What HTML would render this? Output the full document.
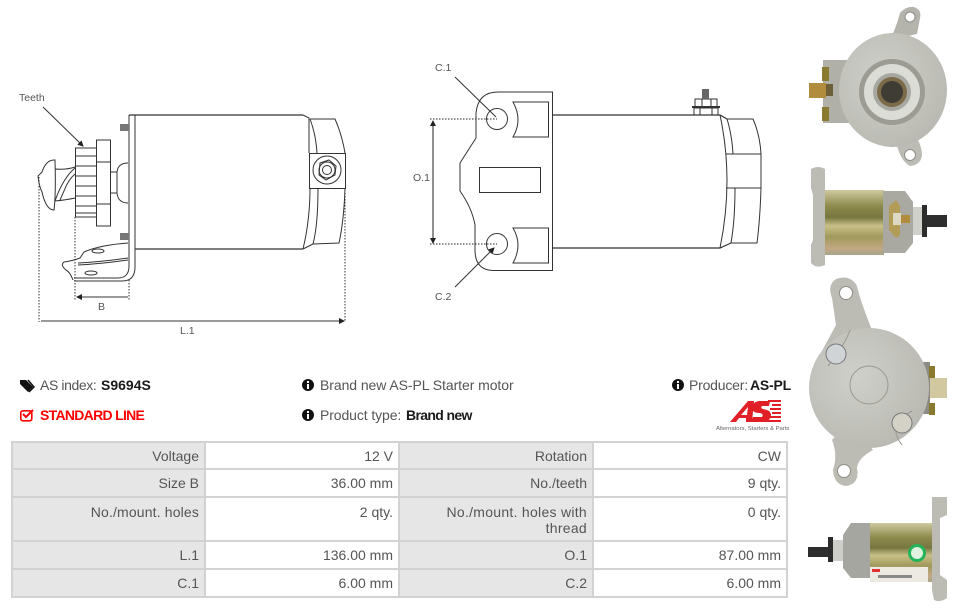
<!DOCTYPE html>
<html><head><meta charset="utf-8"><style>
html,body{margin:0;padding:0;background:#fff}
body{width:956px;height:608px;overflow:hidden;position:relative;font-family:"Liberation Sans",sans-serif}
svg{position:absolute;left:0;top:0}
.t{position:absolute;font-size:14px;color:#555;white-space:nowrap;line-height:18px}
.b{color:#1a1a1a;font-weight:bold}
.c{position:absolute;font-size:14px;color:#555;text-align:right;line-height:17px;box-sizing:border-box;padding-right:5px;white-space:nowrap}
.g{background:#e6e6e6}
.w{background:#fff}
</style></head><body>
<svg width="956" height="608" viewBox="0 0 956 608">
<defs>
<marker id="a" markerWidth="6" markerHeight="6" refX="5" refY="3" orient="auto-start-reverse"><path d="M0 0L6 3L0 6z" fill="#222"/></marker>
<linearGradient id="gold" x1="0" y1="0" x2="0" y2="1"><stop offset="0" stop-color="#cfc9a0"/><stop offset=".25" stop-color="#8d8a4c"/><stop offset=".42" stop-color="#77763f"/><stop offset=".55" stop-color="#c8c088"/><stop offset=".72" stop-color="#a29a5c"/><stop offset=".9" stop-color="#c2a884"/><stop offset="1" stop-color="#a8a58a"/></linearGradient>
<radialGradient id="face" cx=".4" cy=".4" r=".8"><stop offset="0" stop-color="#d0d0ca"/><stop offset="1" stop-color="#b4b4ad"/></radialGradient>
</defs>

<!-- Left drawing -->
<g fill="none" stroke="#333" stroke-width="1">
<path d="M129 115H303M135 249H303" stroke-width="1.200"/>
<path d="M135 115V267Q135 281 122 281H74"/>
<path d="M129 115V266Q129 278 118 278H74"/>
<path d="M303 115L309 118Q309 135 309 153M303 249L313 244Q318 225 318 188M303 249Q310 220 310 188M310 119Q316 135 317 153"/>
<path d="M310 119H335Q342 135 345 153M313 244L339 243Q344 220 345 188"/>
<rect x="309.500" y="153.500" width="36" height="35"/>
<circle cx="327" cy="170" r="14"/>
<path d="M320 163L329 160L336 166L335 175L326 180L319 175Z"/>
<circle cx="327" cy="170" r="8"/><circle cx="327" cy="170" r="4.500"/>
<rect x="96.500" y="140" width="14" height="86"/>
<path d="M96.500 162H110.500M96.500 204H110.500"/>
<rect x="75.500" y="148" width="21" height="69"/>
<path d="M76 156H96M76 166H96M76 176H96M76 186H96M76 196H96M76 206H96M76 213H96"/>
<path d="M111 172H117Q118 163 128 163M111 193H117Q118 203 128 203M117 172V193"/>
<path d="M75 168Q63 178 55 201M75 174Q68 180 64 191L60 200M55 169Q66 170 75 167M55 201Q66 200 75 198"/>
<path d="M54 160Q46 160 42 172L38 176Q39 186 42 192Q46 210 54 210Q56 195 55 160Z"/>
<path d="M73 280Q70 272 66 270Q60 265 64 262Q72 261 80 258L84 252Q100 245 128 243M78 263Q100 262 128 258M78 265Q100 264 128 260"/>
<ellipse cx="98" cy="251" rx="6" ry="2"/><ellipse cx="91" cy="273" rx="6" ry="2"/>
</g>
<g fill="#777"><rect x="120" y="124" width="9" height="7"/><rect x="120" y="233" width="9" height="7"/></g>
<path d="M75 217V300M129 280V300M39 177V322M345 193V322" stroke="#333" fill="none" stroke-dasharray="1.500 1.500"/>
<path d="M43 107L83 146" stroke="#333" fill="none" marker-end="url(#a)"/>
<path d="M77 297H128M41 321H344" stroke="#333" fill="none" marker-start="url(#a)" marker-end="url(#a)"/>

<!-- Middle drawing -->
<g fill="none" stroke="#333" stroke-width="1">
<path d="M552 115H720L727 119M552 248H720L731 243" stroke-width="1.200"/>
<rect x="479.500" y="167.500" width="61" height="25"/>
<path d="M552.500 92V270.500H493Q475 270 475 250V225Q472 208 460 191V163L476 138V113Q478 92 498 92Z"/>
<path d="M513 102H548.500V137H513Q523 120 513 102Z"/>
<path d="M513 228H548.500V263H513Q523 245 513 228Z"/>
<circle cx="497" cy="119" r="10.500"/><circle cx="497" cy="244" r="10.500"/>
<path d="M720 115Q734 180 720 248M727 119Q732 135 733 154M735 188Q735 220 731 243"/>
<path d="M727 119H753Q760 135 761 154V188Q760 220 757 243H731M726 154H761M726 188H761"/>
<path d="M694 115V108H718V115M700 108V115M712 108V115M695 106V99H717V106M702 99V106M711 99V106"/>
</g>
<rect x="692" y="106" width="28" height="2" fill="#333"/>
<rect x="702" y="89" width="7" height="10" fill="#666"/>
<path d="M430 119H497M430 244H497" stroke="#222" stroke-dasharray="1.500 1.500" fill="none"/>
<path d="M433 121V243" stroke="#222" fill="none" marker-start="url(#a)" marker-end="url(#a)"/>
<path d="M455 77L496 117M455 287L494 248" stroke="#333" fill="none" marker-end="url(#a)"/>

<!-- Photo 1 -->
<path d="M890 40Q896 28 900 13Q906 6 914 7Q922 10 920 18L917 34Z" fill="#b4b4ac"/>
<circle cx="910" cy="17" r="5" fill="#fff" stroke="#8e8e86"/>
<path d="M896 140Q899 160 910 166Q921 165 922 155Q922 148 918 140Z" fill="#bcbcb4"/>
<circle cx="910" cy="155" r="5.500" fill="#fff" stroke="#8e8e86"/>
<rect x="823" y="60" width="26" height="63" fill="#b0b0a8"/>
<ellipse cx="893" cy="90" rx="54" ry="57" fill="url(#face)"/>
<circle cx="892" cy="92" r="33" fill="#9c9c95"/><circle cx="892" cy="92" r="28" fill="#dcdcd6"/>
<circle cx="892" cy="92" r="19" fill="#a8a8a2"/><circle cx="892" cy="92" r="15" fill="#7c6a48"/><circle cx="892" cy="92" r="11" fill="#3f3c36"/>
<rect x="809" y="83" width="17" height="15" fill="#b08c3c"/><rect x="822" y="67" width="7" height="14" fill="#8a7a30"/><rect x="822" y="107" width="7" height="14" fill="#8a7a30"/>
<rect x="826" y="84" width="7" height="12" fill="#6d6038"/>

<!-- Photo 2 -->
<path d="M811 169Q818 165 825 169V265Q816 269 811 263V245L813 240V195L811 188Z" fill="#bcbcb4"/>
<rect x="825" y="190" width="59" height="65" fill="url(#gold)"/>
<path d="M883 191H905L913 202V243L905 253H883Z" fill="#a9a9a2"/>
<rect x="913" y="207" width="9" height="28" fill="#d0d0ca"/><rect x="922" y="205" width="5" height="32" fill="#2c2c2c"/>
<rect x="927" y="215" width="20" height="12" fill="#2e2e2e"/>
<path d="M889 206L896 200L900 206V235L896 238L889 230Z" fill="#b39c58"/><rect x="893" y="213" width="8" height="12" fill="#dcd8c4"/><rect x="901" y="215" width="9" height="8" fill="#b08c3c"/>

<!-- Photo 3 -->
<path d="M832 298Q827 285 836 279Q850 274 857 286Q860 300 872 330L860 370L817 360L836 325Z" fill="#bcbcb5"/>
<circle cx="846" cy="293" r="6.500" fill="#fff" stroke="#8e8e86"/>
<path d="M832 440Q838 455 833 470Q834 485 846 486Q860 484 857 468Q858 458 873 450L850 420Z" fill="#bcbcb5"/>
<circle cx="844" cy="471" r="6.500" fill="#fff" stroke="#8e8e86"/>
<rect x="920" y="362" width="10" height="52" fill="#8c8c84"/>
<rect x="930" y="378" width="17" height="20" fill="#d2c8a0"/><rect x="929" y="366" width="6" height="12" fill="#8a7a30"/><rect x="929" y="403" width="6" height="12" fill="#8a7a30"/>
<circle cx="869" cy="388" r="60" fill="url(#face)"/>
<circle cx="869" cy="385" r="19" fill="none" stroke="#9a9a92"/>
<path d="M850 330Q845 345 828 366M902 445Q886 425 912 411" fill="none" stroke="#9a9a92"/>
<circle cx="836" cy="354" r="10" fill="#d0d4d6" stroke="#77777a"/>
<circle cx="902" cy="423" r="10" fill="#d4d2c6" stroke="#77777a"/>

<!-- Photo 4 -->
<path d="M932 497H947V515L940 518V575L947 580V598Q940 603 934 600L932 590Z" fill="#bcbcb4"/>
<rect x="870" y="523" width="62" height="59" fill="url(#gold)"/>
<path d="M870 523H851L843 535V568L851 578H870Z" fill="#a6a6a0"/>
<rect x="833" y="540" width="10" height="21" fill="#cfcfca"/><rect x="828" y="537" width="5" height="25" fill="#2c2c2c"/>
<rect x="808" y="547" width="21" height="10" fill="#2e2e2e"/>
<rect x="870" y="567" width="58" height="15" fill="#eceae2"/><rect x="872" y="569" width="8" height="3" fill="#d33"/><rect x="878" y="575" width="34" height="3" fill="#888"/>
<circle cx="917" cy="553" r="9" fill="#25b35a"/><circle cx="917" cy="553" r="6" fill="#dff2e0"/>

<!-- AS logo -->
<path d="M730 422L748 401H754L752 422H746L746 418H739L736 422ZM741 415H747L748 407Z" fill="#e01f26"/>
<path d="M770 401H759Q752 402 752 409Q753 413 760 413Q764 414 762 417H753L751 422H764Q771 421 771 414Q770 410 763 409Q760 408 762 406H769Z" fill="#e01f26"/>
<g fill="#e01f26"><rect x="768" y="400" width="13" height="2"/><rect x="772" y="404" width="9" height="2"/><rect x="770" y="408" width="11" height="2"/><rect x="772" y="412" width="9" height="2"/><rect x="770" y="416" width="11" height="2"/><rect x="764" y="420" width="17" height="2"/></g>

<!-- Info icons -->
<g fill="#111">
<circle cx="308" cy="385" r="6"/><circle cx="308" cy="415" r="6"/><circle cx="678" cy="385" r="6"/>
</g>
<g fill="#fff"><rect x="307" y="381" width="2" height="2"/><rect x="307" y="384" width="2" height="5"/><rect x="307" y="411" width="2" height="2"/><rect x="307" y="414" width="2" height="5"/><rect x="677" y="381" width="2" height="2"/><rect x="677" y="384" width="2" height="5"/></g>
<path d="M20 380H26L33 387L28 392L20 384Z" fill="#111"/><path d="M28 380L34 387L29 392" fill="none" stroke="#111" stroke-width="1.500"/>
<rect x="20.800" y="410.800" width="11" height="10" rx="2" fill="none" stroke="#f00" stroke-width="1.600"/>
<path d="M23 414L26 417L33 410" fill="none" stroke="#f00" stroke-width="2"/>

<!-- Diagram labels -->
<g font-family="Liberation Sans, sans-serif" font-size="10.500" fill="#555">
<text x="19" y="101">Teeth</text>
<text x="98" y="310">B</text>
<text x="180" y="334">L.1</text>
<text x="435" y="71">C.1</text>
<text x="413" y="181">O.1</text>
<text x="435" y="300">C.2</text>
<text x="716" y="430" font-size="5.900" fill="#666">Alternators, Starters &amp; Parts</text>
</g>

<!-- Table frame -->
<rect x="11" y="441" width="777" height="157" fill="#d2d2d2"/>
</svg>

<div class="t" style="left:40px;top:376px;letter-spacing:-.4px">AS index:</div>
<div class="t b" style="left:101px;top:376px">S9694S</div>
<div class="t" style="left:40px;top:406px;color:#f00;font-weight:bold;letter-spacing:-.7px">STANDARD LINE</div>
<div class="t" style="left:320px;top:376px;letter-spacing:-.07px">Brand new AS-PL Starter motor</div>
<div class="t" style="left:320px;top:406px;letter-spacing:-.1px">Product type:</div>
<div class="t b" style="left:406px;top:406px;letter-spacing:-.65px">Brand new</div>
<div class="t" style="left:689px;top:376px;letter-spacing:-.2px">Producer:</div>
<div class="t b" style="left:750px;top:376px;letter-spacing:-.2px">AS-PL</div>

<div class="c g" style="left:13px;top:443px;width:191px;height:25px;padding-top:5px">Voltage</div>
<div class="c w" style="left:206px;top:443px;width:192px;height:25px;padding-top:5px">12 V</div>
<div class="c g" style="left:400px;top:443px;width:192px;height:25px;padding-top:5px">Rotation</div>
<div class="c w" style="left:594px;top:443px;width:192px;height:25px;padding-top:5px">CW</div>

<div class="c g" style="left:13px;top:470px;width:191px;height:26px;padding-top:5px">Size B</div>
<div class="c w" style="left:206px;top:470px;width:192px;height:26px;padding-top:5px">36.00 mm</div>
<div class="c g" style="left:400px;top:470px;width:192px;height:26px;padding-top:5px">No./teeth</div>
<div class="c w" style="left:594px;top:470px;width:192px;height:26px;padding-top:5px">9 qty.</div>

<div class="c g" style="left:13px;top:498px;width:191px;height:42px;padding-top:6px;letter-spacing:.15px">No./mount. holes</div>
<div class="c w" style="left:206px;top:498px;width:192px;height:42px;padding-top:6px">2 qty.</div>
<div class="c g" style="left:400px;top:498px;width:192px;height:42px;padding-top:6px;line-height:16px;letter-spacing:.28px">No./mount. holes with<br>thread</div>
<div class="c w" style="left:594px;top:498px;width:192px;height:42px;padding-top:6px">0 qty.</div>

<div class="c g" style="left:13px;top:542px;width:191px;height:26px;padding-top:5px">L.1</div>
<div class="c w" style="left:206px;top:542px;width:192px;height:26px;padding-top:5px">136.00 mm</div>
<div class="c g" style="left:400px;top:542px;width:192px;height:26px;padding-top:5px">O.1</div>
<div class="c w" style="left:594px;top:542px;width:192px;height:26px;padding-top:5px">87.00 mm</div>

<div class="c g" style="left:13px;top:570px;width:191px;height:26px;padding-top:5px">C.1</div>
<div class="c w" style="left:206px;top:570px;width:192px;height:26px;padding-top:5px">6.00 mm</div>
<div class="c g" style="left:400px;top:570px;width:192px;height:26px;padding-top:5px">C.2</div>
<div class="c w" style="left:594px;top:570px;width:192px;height:26px;padding-top:5px">6.00 mm</div>
</body></html>
